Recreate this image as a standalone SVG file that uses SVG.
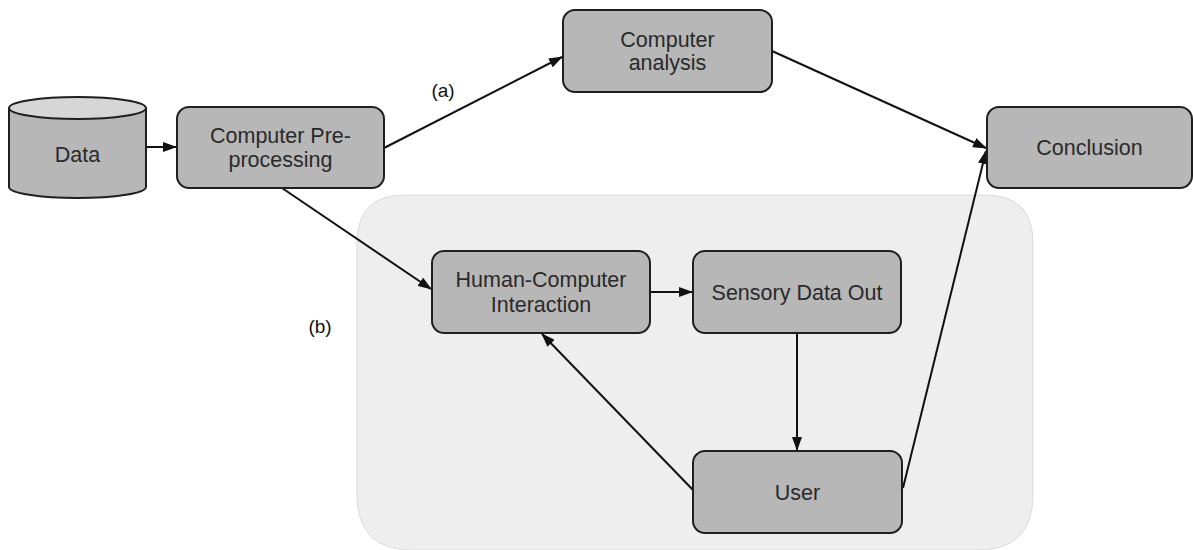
<svg xmlns="http://www.w3.org/2000/svg" width="1193" height="550" viewBox="0 0 1193 550">
  <style>
    .node { fill: #b7b7b7; stroke: #1f1f1f; stroke-width: 2; }
    .lbl { font-family: "Liberation Sans", Arial, sans-serif; font-size: 21.5px; fill: #2a2a2a; text-anchor: middle; }
    .tag { font-family: "Liberation Sans", Arial, sans-serif; font-size: 19px; fill: #111; text-anchor: middle; }
    .edge { stroke: #111; stroke-width: 2; fill: none; marker-end: url(#arrow); }
  </style>
  <defs>
    <marker id="arrow" viewBox="0 0 14 10" refX="13" refY="5" markerWidth="14" markerHeight="10" markerUnits="userSpaceOnUse" orient="auto">
      <path d="M0,0 L14,5 L0,10 z" fill="#111"/>
    </marker>
  </defs>
  <rect width="1193" height="550" fill="#ffffff"/>

  <!-- interactive region backdrop -->
  <g id="panel">
    <path d="M405,195 H985 Q1033,195 1033,243 V495 Q1033,550 978,550 H412 Q357,550 357,495 V243 Q357,195 405,195 Z" fill="#eeeeee" stroke="#dcdcdc" stroke-width="1"/>
  </g>

  <g id="connectors">
    <line class="edge" x1="146" y1="147" x2="176" y2="147"/>
    <line class="edge" x1="384" y1="148" x2="562" y2="57"/>
    <line class="edge" x1="772" y1="51" x2="986" y2="148"/>
    <line class="edge" x1="903" y1="488" x2="986" y2="151"/>
    <line class="edge" x1="282" y1="188" x2="431" y2="289"/>
    <line class="edge" x1="650" y1="292" x2="692" y2="292"/>
    <line class="edge" x1="797" y1="333" x2="797" y2="450"/>
    <line class="edge" x1="693" y1="490" x2="542" y2="334"/>
  </g>

  <g id="data">
    <path d="M9,108 V187 A68.5,11 0 0 0 146,187 V108" fill="#b7b7b7" stroke="#1f1f1f" stroke-width="2"/>
    <ellipse cx="77.5" cy="108" rx="68.5" ry="11" fill="#d6d6d6" stroke="#1f1f1f" stroke-width="2"/>
    <text class="lbl" x="77.5" y="162">Data</text>
  </g>

  <g id="preprocessing">
    <rect class="node" x="177" y="107" width="207" height="81" rx="12"/>
    <text class="lbl" x="280.5" y="143">Computer Pre-</text>
    <text class="lbl" x="280.5" y="167">processing</text>
  </g>

  <g id="analysis">
    <rect class="node" x="563" y="10" width="209" height="82" rx="12"/>
    <text class="lbl" x="667.5" y="47">Computer</text>
    <text class="lbl" x="667.5" y="70">analysis</text>
  </g>

  <g id="conclusion">
    <rect class="node" x="987" y="107" width="205" height="81" rx="12"/>
    <text class="lbl" x="1089.5" y="155">Conclusion</text>
  </g>

  <g id="hci">
    <rect class="node" x="432" y="251" width="218" height="82" rx="12"/>
    <text class="lbl" x="541" y="287">Human-Computer</text>
    <text class="lbl" x="541" y="312">Interaction</text>
  </g>

  <g id="sensory">
    <rect class="node" x="693" y="251" width="208" height="82" rx="12"/>
    <text class="lbl" x="797" y="299.5">Sensory Data Out</text>
  </g>

  <g id="user">
    <rect class="node" x="693" y="451" width="209" height="82" rx="12"/>
    <text class="lbl" x="797.5" y="499.5">User</text>
  </g>

  <g id="path-labels">
    <text class="tag" x="443" y="97">(a)</text>
    <text class="tag" x="320" y="333">(b)</text>
  </g>
</svg>
